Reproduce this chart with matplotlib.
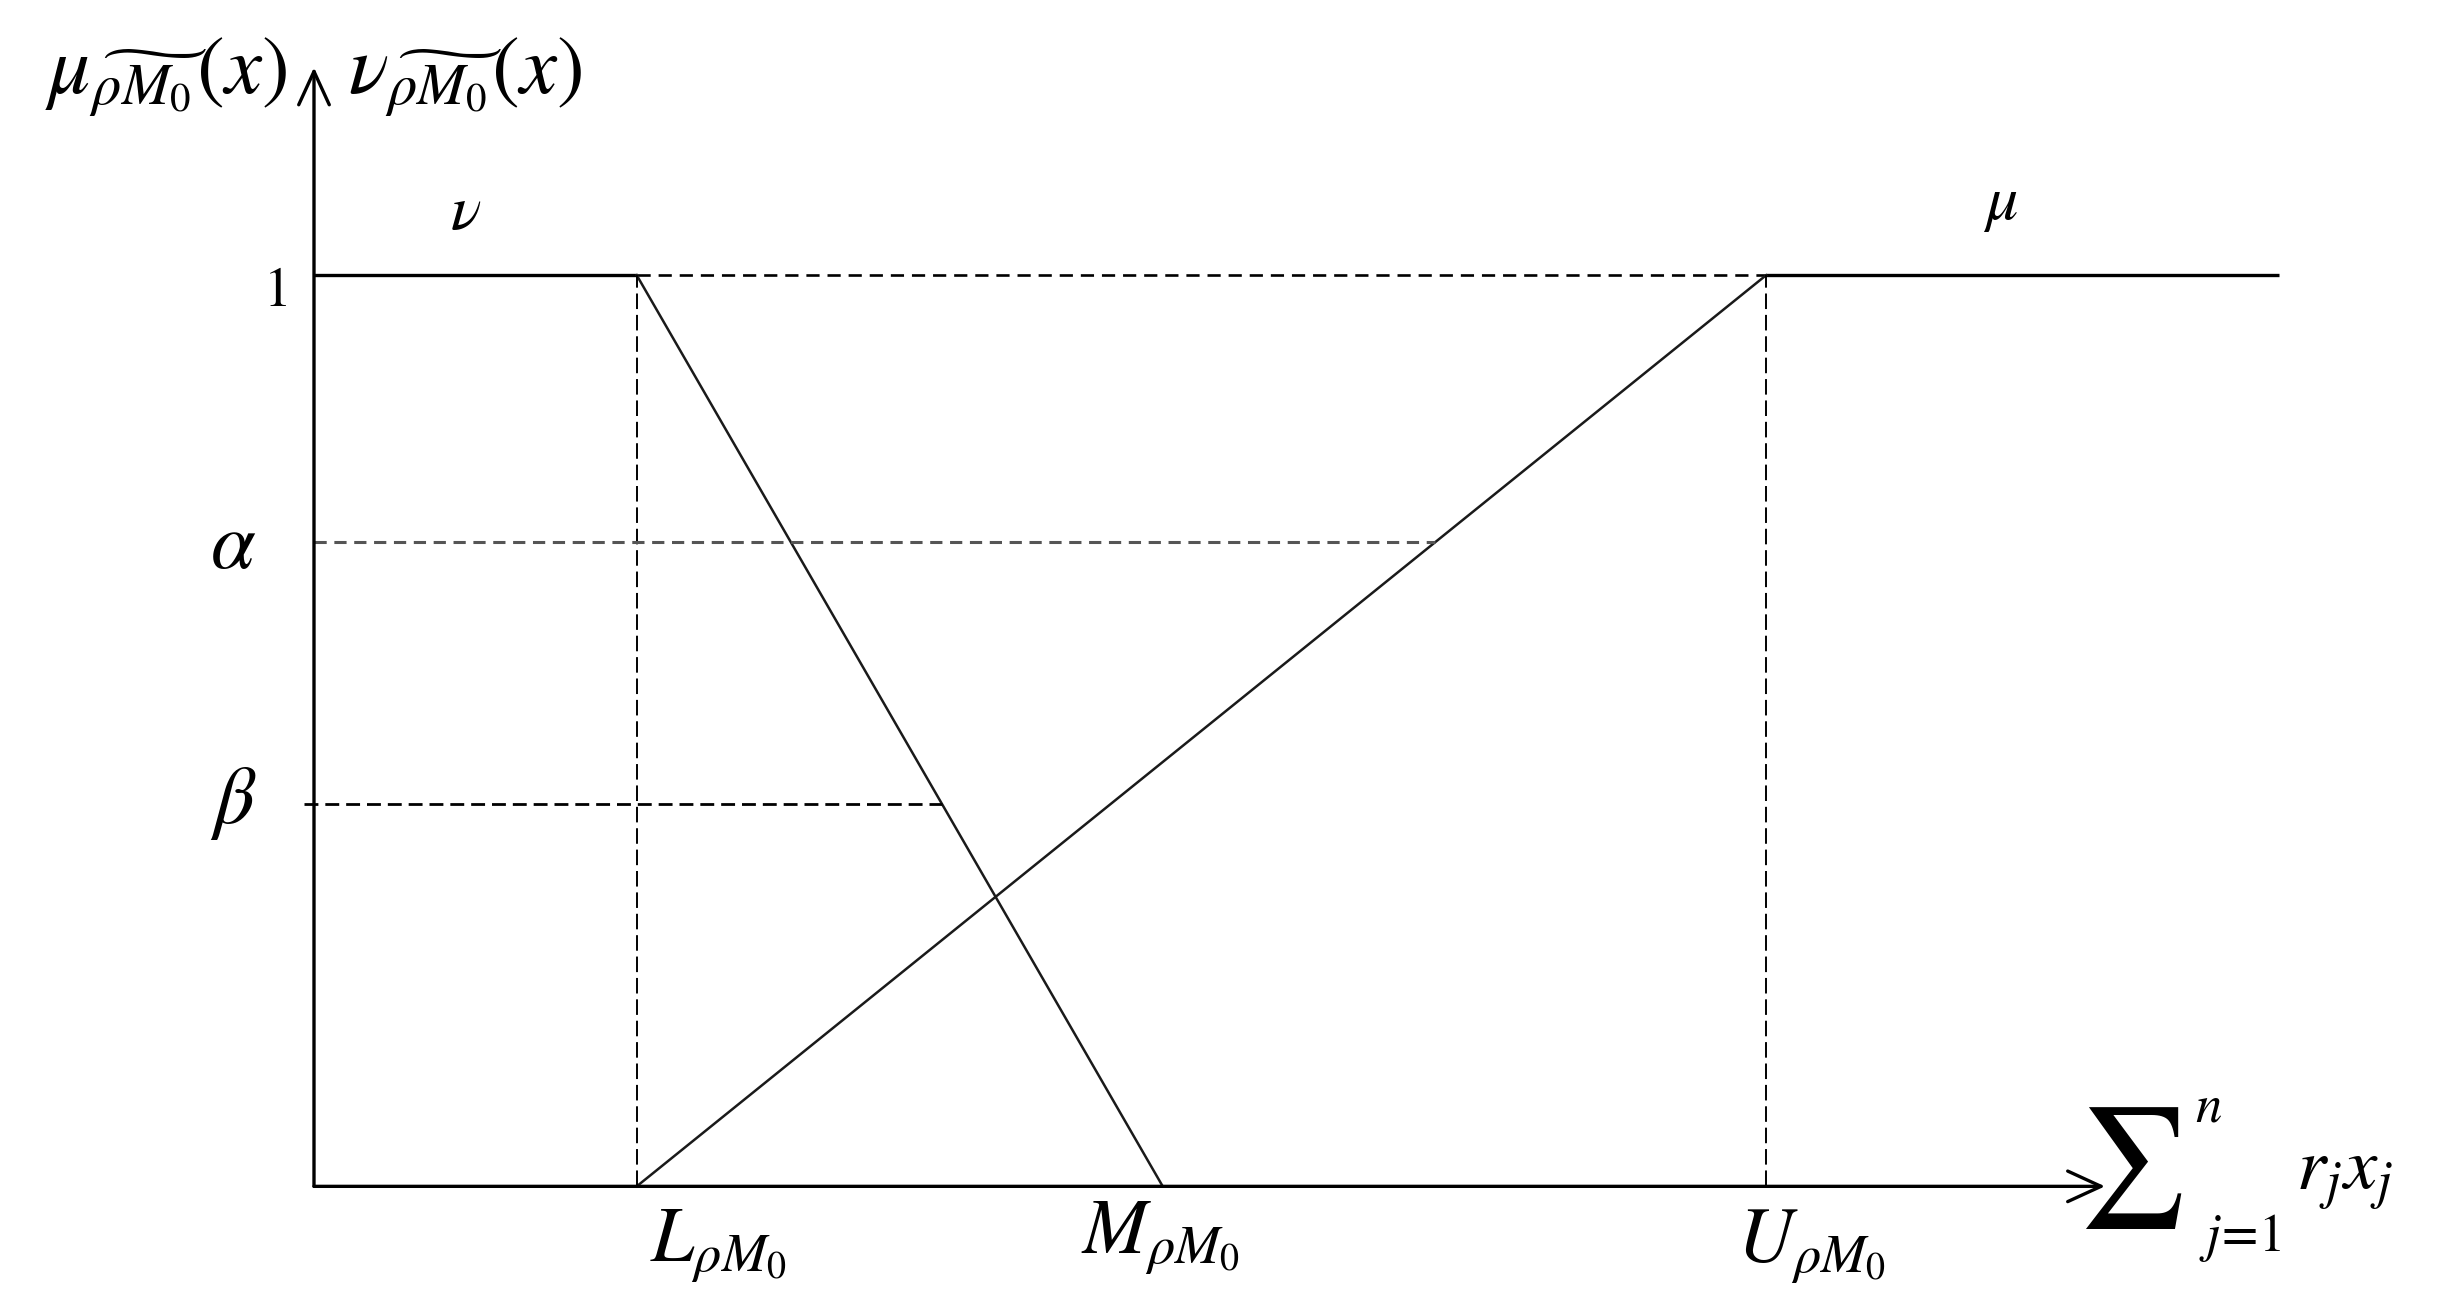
"""
Esquema de las funciones de pertenencia mu / nu sobre sum r_j x_j.
"""

import numpy as np
import matplotlib.pyplot as plt

plt.rcParams["mathtext.fontset"] = "stix"
plt.rcParams["font.family"] = "STIXGeneral"

# --- Datos del esquema ---
x_marks = [1.0, 2.63, 4.5]          # L, M, U
x_mark_labels = [r"$L_{\rho M_0}$", r"$M_{\rho M_0}$", r"$U_{\rho M_0}$"]
levels = [0.707, 0.42]              # alpha, beta
level_labels = [r"$\alpha$", r"$\beta$"]

mu_x = [1.0, 4.5]                   # tramo creciente de mu
mu_y = [0.0, 1.0]
nu_x = [1.0, 2.63]                  # tramo decreciente de nu
nu_y = [1.0, 0.0]

X_END = 5.55                        # punta de la flecha del eje x
TOP_END = 6.09                      # fin de la meseta de mu
Y_END = 1.228                       # punta de la flecha del eje y

fig = plt.figure(figsize=(24.4, 13.13), dpi=100)
ax = fig.add_axes([0, 0, 1, 1])
ax.set_xlim(-0.973, 6.588)
ax.set_ylim(-0.139, 1.302)
ax.axis("off")

k = "black"
L, M, U = x_marks

# ejes con flecha abierta
arrow = dict(arrowstyle="->,head_length=2.4,head_width=1.1", color=k, lw=2.4,
             shrinkA=0, shrinkB=0)
ax.annotate("", xy=(X_END, 0), xytext=(0, 0), arrowprops=arrow)
ax.annotate("", xy=(0, Y_END), xytext=(0, 0), arrowprops=arrow)

# mesetas en 1
ax.plot([0, L], [1, 1], color=k, lw=2.4, solid_capstyle="butt")
ax.plot([U, TOP_END], [1, 1], color=k, lw=2.4, solid_capstyle="butt")
ax.plot([L, U], [1, 1], color=k, lw=1.9, dashes=(5, 3))

# funciones
ax.plot(mu_x, mu_y, color="#1a1a1a", lw=1.8)
ax.plot(nu_x, nu_y, color="#1a1a1a", lw=1.8)

# verticales punteadas en L y U
for xv in (L, U):
    ax.plot([xv, xv], [0, 1], color=k, lw=1.4, dashes=(8, 3))

# cortes alfa y beta
a_end = np.interp(levels[0], mu_y, mu_x)
b_end = np.interp(levels[1], nu_y[::-1], nu_x[::-1])
ax.plot([0, a_end], [levels[0], levels[0]], color="#555555", lw=2.2, dashes=(4, 2.5))
ax.plot([-0.03, b_end], [levels[1], levels[1]], color=k, lw=2.0, dashes=(5, 2.5))

for lv, lab, dy in zip(levels, level_labels, (-0.008, 0.0)):
    ax.text(-0.251, lv + dy, lab, fontsize=58, ha="center", va="center")

ax.text(-0.068, 0.981, "1", fontsize=40, ha="right", va="center")

# etiquetas del eje x (desplazamiento del borde izquierdo respecto a la marca)
for xm, lab, dx, top in zip(x_marks, x_mark_labels, (0.04, -0.253, -0.09),
                            (-0.023, -0.015, -0.023)):
    ax.text(xm + dx, top, lab, fontsize=56, ha="left", va="top")

# nombres de las curvas
ax.text(0.471, 1.068, r"$\nu$", fontsize=46, ha="center", va="center")
ax.text(5.225, 1.077, r"$\mu$", fontsize=46, ha="center", va="center")

# etiquetas del eje y
ax.text(-0.085, 1.217, r"$\mu_{\widetilde{\rho M_0}}(x)$", fontsize=60, ha="right", va="center")
ax.text(0.105, 1.217, r"$\nu_{\widetilde{\rho M_0}}(x)$", fontsize=60, ha="left", va="center")

# etiqueta del eje x
ax.text(5.628, 0.020, r"$\sum$", fontsize=86, ha="center", va="center")
ax.text(5.87, 0.085, r"$n$", fontsize=38, ha="center", va="center")
ax.text(5.97, -0.057, r"$j\!=\!1$", fontsize=38, ha="center", va="center")
ax.text(6.142, -0.004, r"$r_j x_j$", fontsize=54, ha="left", va="baseline")

fig.savefig("out.png", dpi=100)
plt.close(fig)
